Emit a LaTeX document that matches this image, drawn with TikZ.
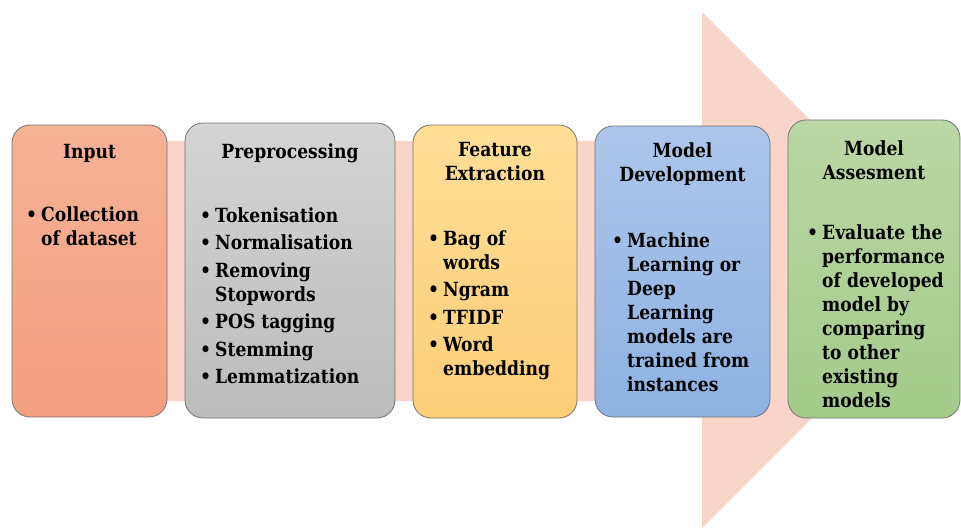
\documentclass[tikz,border=0pt]{standalone}
\usepackage{fontspec}
\setmainfont{DejaVu Serif}[FakeStretch = 0.88]
\usetikzlibrary{shadings,positioning}

\definecolor{arrowpink}{RGB}{248,212,201}
\definecolor{inputtop}{RGB}{246,178,150}
\definecolor{inputbot}{RGB}{243,160,128}
\definecolor{preptop}{RGB}{212,212,212}
\definecolor{prepbot}{RGB}{188,188,188}
\definecolor{feattop}{RGB}{255,222,150}
\definecolor{featbot}{RGB}{254,206,120}
\definecolor{devtop}{RGB}{172,198,234}
\definecolor{devbot}{RGB}{142,178,226}
\definecolor{asstop}{RGB}{186,216,166}
\definecolor{assbot}{RGB}{162,203,138}

\newcommand{\stagefont}{\fontsize{19.5}{24}\selectfont\bfseries}
\newcommand{\bul}{\makebox[15pt][l]{\textbullet}}
\newcommand{\cont}{\hspace*{15pt}}

\begin{document}
\begin{tikzpicture}[x=1pt, y=-1pt,
  stage/.style = {draw         = black!55,
                  line width   = 0.8pt,
                  rounded corners = 18pt,
                  shading      = axis,
                  anchor       = north west,
                  inner sep    = 0pt,
                  outer sep    = 0pt},
  title/.style = {font = \stagefont, align = center, inner sep = 0pt,
                  execute at begin node = \strut},
  items/.style = {font = \stagefont, align = left, inner sep = 0pt,
                  execute at begin node = \strut}]
  \useasboundingbox (0,0) rectangle (961,528);
  % big arrow behind the stages
  \fill[arrowpink] (20,141) -- (702,141) -- (702,12) -- (960,270)
                   -- (702,528) -- (702,401) -- (20,401) -- cycle;
  % stages
  \node (input) [stage, minimum width=155pt, minimum height=292pt,
                 top color=inputtop, bottom color=inputbot] at (12,125) {};
  \node (prep)  [stage, minimum width=210pt, minimum height=295pt,
                 top color=preptop, bottom color=prepbot] at (185,123) {};
  \node (feat)  [stage, minimum width=164pt, minimum height=293pt,
                 top color=feattop, bottom color=featbot] at (413,125) {};
  \node (dev)   [stage, minimum width=175pt, minimum height=291pt,
                 top color=devtop, bottom color=devbot] at (595,126) {};
  \node (ass)   [stage, minimum width=172pt, minimum height=298pt,
                 top color=asstop, bottom color=assbot] at (788,120) {};
  % titles
  \node (inputtitle) [title, below=16pt of input.north] {Input};
  \node (preptitle)  [title, below=18pt of prep.north] {Preprocessing};
  \node (feattitle)  [title, below=17pt of feat.north] {Feature\\Extraction};
  \node (devtitle)   [title, below=16pt of dev.north] {Model\\Development};
  \node (asstitle)   [title, below=20pt of ass.north] {Model\\Assesment};
  % bullet lists
  \node (inputlist) [items, below right=81pt and 14pt of input.north west]
    {\bul Collection\\ \cont of dataset};
  \node (preplist) [items, below right=84pt and 15pt of prep.north west]
    {\bul Tokenisation\\[3.5pt] \bul Normalisation\\[3.5pt] \bul Removing\\
     \cont Stopwords\\[3.5pt] \bul POS tagging\\[3.5pt] \bul Stemming\\[3.5pt]
     \bul Lemmatization};
  \node (featlist) [items, below right=105pt and 15pt of feat.north west]
    {\bul Bag of\\ \cont words\\[3.5pt] \bul Ngram\\[3.5pt] \bul TFIDF\\[3.5pt]
     \bul Word\\ \cont embedding};
  \node (devlist) [items, below right=106pt and 17pt of dev.north west]
    {\bul Machine\\ \cont Learning or\\ \cont Deep\\ \cont Learning\\
     \cont models are\\ \cont trained from\\ \cont instances};
  \node (asslist) [items, below right=104pt and 19pt of ass.north west]
    {\bul Evaluate the\\ \cont performance\\ \cont of developed\\
     \cont model by\\ \cont comparing\\ \cont to other\\ \cont existing\\
     \cont models};
\end{tikzpicture}
\end{document}
